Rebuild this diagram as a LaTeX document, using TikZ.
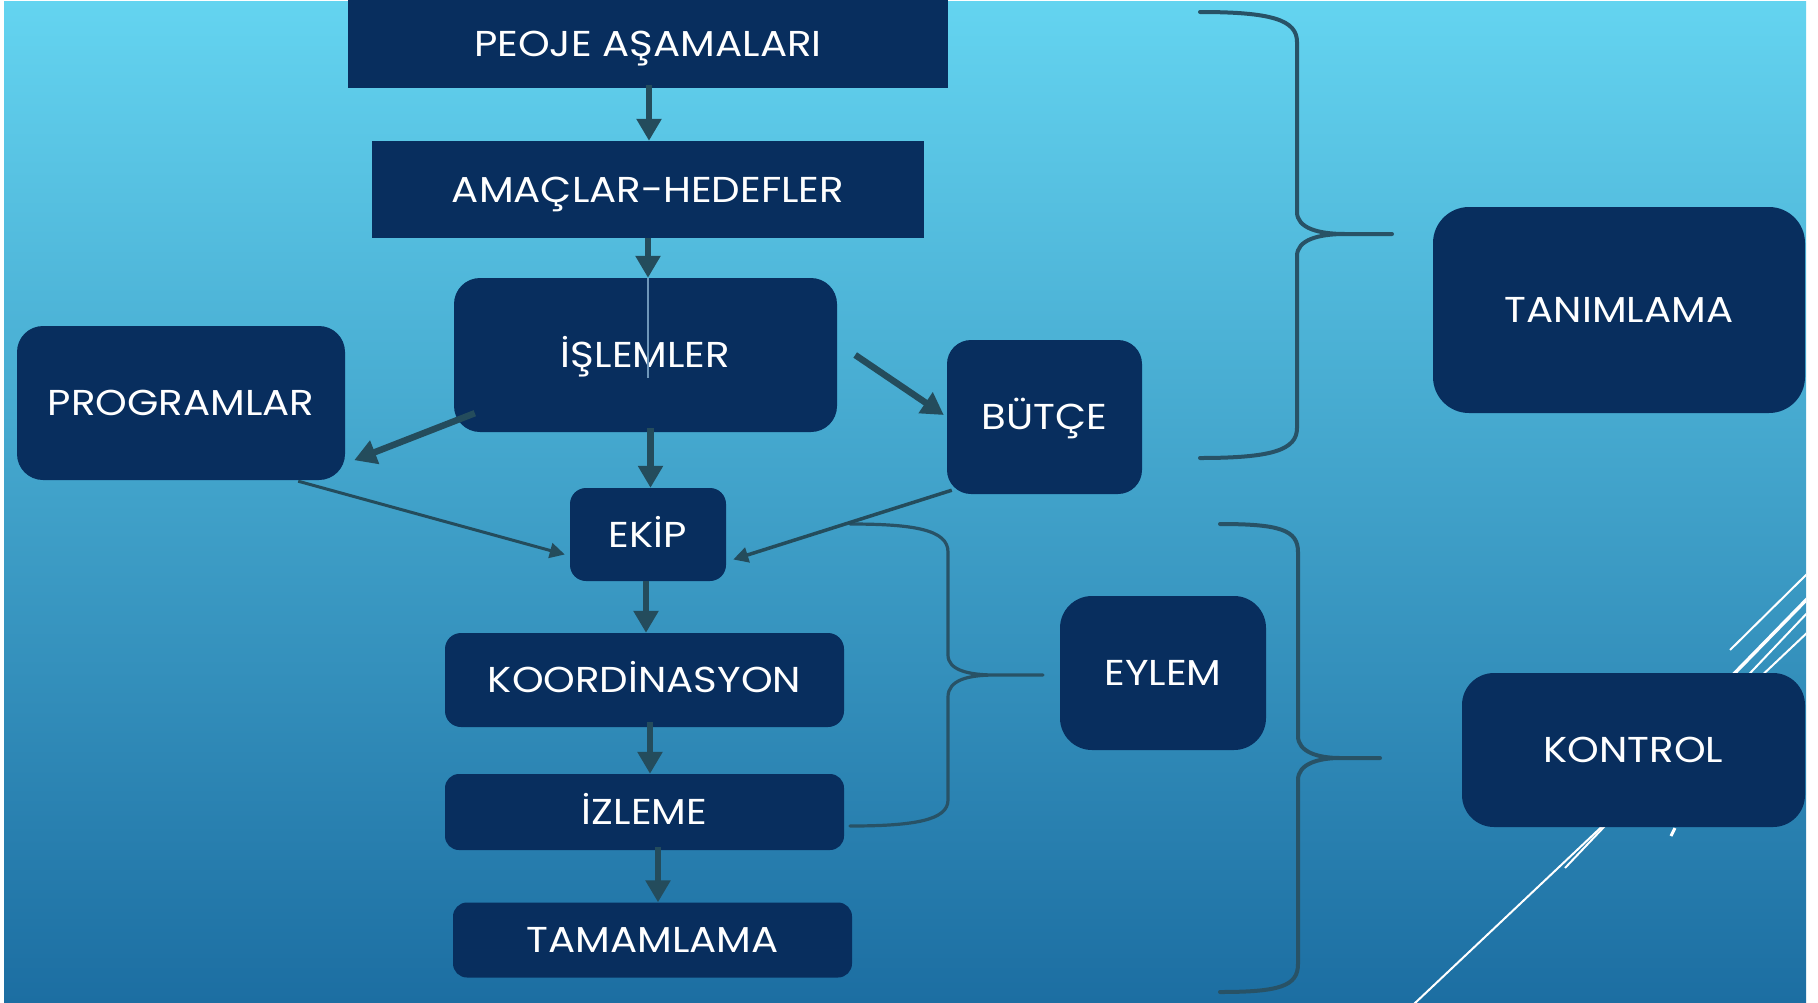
\documentclass[tikz,border=0pt]{standalone}
\usepackage{fontspec}
\setmainfont[FakeStretch=1.12]{Poppins}
\usetikzlibrary{arrows.meta,calc}
\definecolor{navy}{RGB}{8,46,94}
\definecolor{arrc}{RGB}{36,76,92}
\definecolor{bracec}{RGB}{40,82,102}
\definecolor{bgtop}{RGB}{100,212,240}
\definecolor{bgbot}{RGB}{28,110,162}
\definecolor{thinc}{RGB}{110,150,185}
\begin{document}
\begin{tikzpicture}[x=1pt,y=-1pt,
  box/.style={fill=navy, text=white, inner sep=0pt, font=\fontsize{36}{40}\selectfont, text height=25pt, text depth=0pt, anchor=center},
  sq/.style={box},
  rbox/.style={box, rounded corners=#1},
  arr/.style={draw=arrc, line width=6.5pt, -{Triangle[length=22pt,width=24pt]}},
  tarr/.style={draw=arrc, line width=3pt, -{Triangle[length=15pt,width=15pt]}},
  brc/.style={draw=bracec, line width=4pt, line cap=round, line join=round},
  deco/.style={draw=white, line width=2pt}
]
\useasboundingbox (0,0) rectangle (1818,1002);
\fill[white] (0,0) rectangle (1818,1002);
\shade[top color=bgtop, bottom color=bgbot] (4,1) rectangle (1806,1002);

% decorative white lines
\begin{scope}
\clip (4,1) rectangle (1806,1002);
\draw[deco] (1730,650) -- (1810,571);
\draw[deco, line width=3.5pt] (1726,682) -- (1810,596);
\draw[deco] (1565,868) -- (1810,610);
\draw[deco] (1414,1004) -- (1810,630);
\draw[deco, line width=3pt] (1671,836) -- (1675,828);
\end{scope}

% boxes
\node[sq, minimum width=600pt, minimum height=88pt] (peoje) at (648,44) {PEOJE AŞAMALARI};
\node[sq, minimum width=552pt, minimum height=97pt] (amac) at (648,189.5) {AMAÇLAR-HEDEFLER};
\node[rbox=26pt, minimum width=383pt, minimum height=154pt] (islem) at (645.5,355) {İŞLEMLER};
\node[rbox=26pt, minimum width=328pt, minimum height=154pt] (prog) at (181,403) {PROGRAMLAR};
\node[rbox=24pt, minimum width=195pt, minimum height=154pt] (butce) at (1044.5,417) {BÜTÇE};
\node[rbox=16pt, minimum width=156pt, minimum height=93pt] (ekip) at (648,534.5) {EKİP};
\node[rbox=16pt, minimum width=399pt, minimum height=94pt] (koord) at (644.5,680) {KOORDİNASYON};
\node[rbox=14pt, minimum width=399pt, minimum height=76pt] (izl) at (644.5,812) {İZLEME};
\node[rbox=14pt, minimum width=399pt, minimum height=75pt] (tam) at (652.5,940) {TAMAMLAMA};
\node[rbox=36pt, minimum width=372pt, minimum height=206pt] (tanim) at (1619,310) {TANIMLAMA};
\node[rbox=32pt, minimum width=206pt, minimum height=154pt] (eylem) at (1163,673) {EYLEM};
\node[rbox=32pt, minimum width=343pt, minimum height=154pt] (kontrol) at (1633.5,750) {KONTROL};

% braces
\draw[brc] (1200,12) .. controls (1272,12) and (1297,20) .. (1297,42) -- (1297,212)
  .. controls (1297,228) and (1318,234) .. (1345,234) -- (1392,234) -- (1345,234)
  .. controls (1318,234) and (1297,240) .. (1297,256) -- (1297,428)
  .. controls (1297,450) and (1272,458) .. (1200,458);
\draw[brc, line width=3.2pt] (850,524) .. controls (915,524) and (948,530) .. (948,552) -- (948,655)
  .. controls (948,670) and (968,675) .. (995,675) -- (1043,675) -- (995,675)
  .. controls (968,675) and (948,680) .. (948,697) -- (948,800)
  .. controls (948,820) and (915,826) .. (850,826);
\draw[brc] (1220,524) .. controls (1280,524) and (1298,530) .. (1298,552) -- (1298,736)
  .. controls (1298,752) and (1318,758) .. (1340,758) -- (1380,758) -- (1340,758)
  .. controls (1318,758) and (1298,764) .. (1298,780) -- (1298,964)
  .. controls (1298,986) and (1280,992) .. (1220,992);

% arrows
\coordinate (s1) at ([xshift=1pt,yshift=3pt]peoje.south);
\draw[arr] (s1) -- (s1 |- amac.north);
\coordinate (s2) at (amac.south);
\draw[arr] (s2) -- (s2 |- islem.north);
\coordinate (t1) at (s2 |- islem.north);
\draw[thinc, line width=1.2pt] (t1) -- ++(0,100);
\coordinate (s3) at ([xshift=5pt,yshift=4pt]islem.south);
\draw[arr] (s3) -- (s3 |- ekip.north);
\draw[arr] ($(islem.south west)+(21,-19)$) -- ($(prog.south east)+(9,-20)$);
\draw[arr] ($(islem.east)+(18,0)$) -- ($(butce.west)+(-3,-2)$);
\draw[tarr] ($(prog.south east)+(-47,1)$) -- ($(ekip.west)+(-5,20)$);
\draw[tarr, line width=3.5pt] ($(butce.south west)+(5,-4)$) -- ($(ekip.east)+(7,25)$);
\coordinate (s8) at ([xshift=-2pt]ekip.south);
\draw[arr] (s8) -- (s8 |- koord.north);
\coordinate (s9) at ([xshift=5.5pt,yshift=5pt]koord.south);
\draw[arr] (s9) -- (s9 |- izl.north);
\coordinate (s10) at ([xshift=13.5pt,yshift=3pt]izl.south);
\draw[arr] (s10) -- (s10 |- tam.north);
\end{tikzpicture}
\end{document}
